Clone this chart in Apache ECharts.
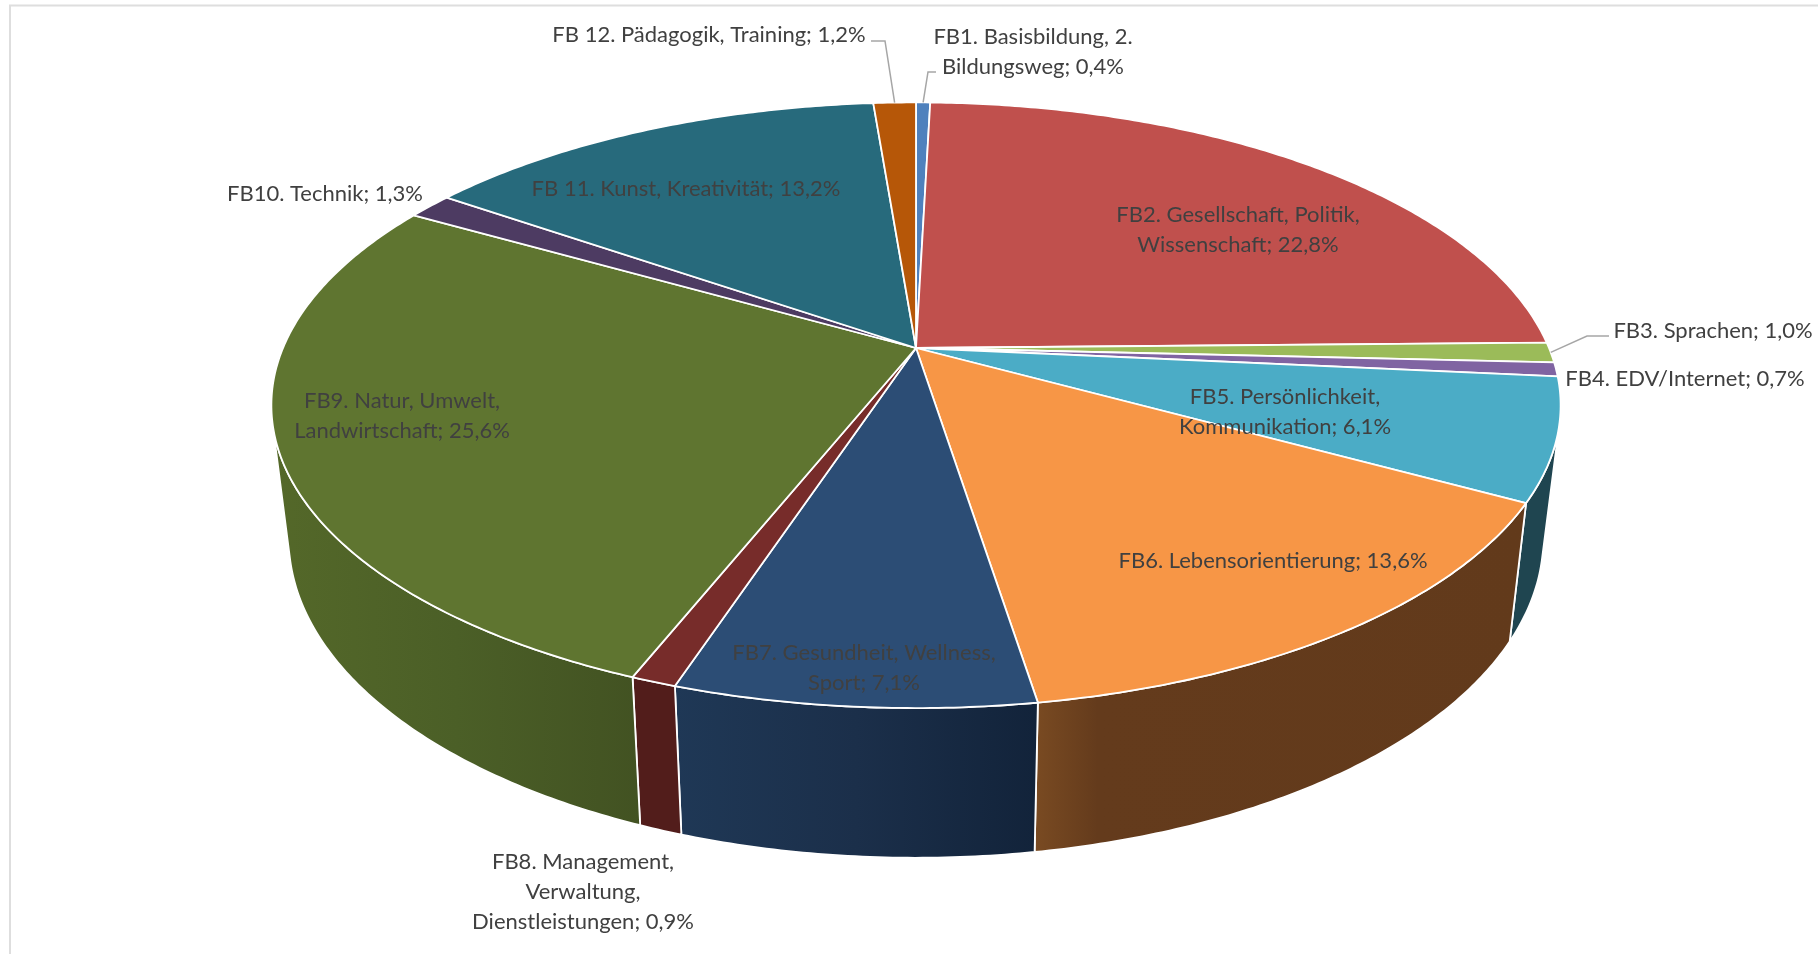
<!DOCTYPE html>
<html>
<head>
<meta charset="utf-8">
<style>html,body{margin:0;padding:0;background:#fff}#chart{width:1818px;height:954px}</style>
<script src="https://cdn.jsdelivr.net/npm/echarts@6/dist/echarts.min.js"></script>
</head>
<body>
<div id="chart"></div>
<script>
// --- data ---
const categories = [
  'FB1. Basisbildung, 2.\nBildungsweg',
  'FB2. Gesellschaft, Politik,\nWissenschaft',
  'FB3. Sprachen',
  'FB4. EDV/Internet',
  'FB5. Persönlichkeit,\nKommunikation',
  'FB6. Lebensorientierung',
  'FB7. Gesundheit, Wellness,\nSport',
  'FB8. Management,\nVerwaltung,\nDienstleistungen',
  'FB9. Natur, Umwelt,\nLandwirtschaft',
  'FB10. Technik',
  'FB 11. Kunst, Kreativität',
  'FB 12. Pädagogik, Training'
];
const shares = [0.4, 22.8, 1.0, 0.7, 6.1, 13.6, 7.1, 0.9, 25.6, 1.3, 13.2, 1.2];

// --- styles and layout (separate from the data) ---
const topColors = ['#4f81bd','#c0504d','#9bbb59','#8064a2','#4bacc6','#f79646','#2c4d75','#772c2a','#5f7530','#4d3b62','#276a7c','#b65708'];
const wallStops = [
  ['#2f4d72','#2f4d72'], ['#73302e','#73302e'], ['#5d7035','#5d7035'], ['#4c3c61','#4c3c61'],
  ['#1f4550','#1f4550'],
  ['#7a4b22','#643b1c','#623a1b'],
  ['#1f3856','#1b2f4a','#12233a'],
  ['#521d1b','#521d1b'],
  ['#546829','#4b5f27','#425222'],
  ['#2e233b','#2e233b'], ['#173f4a','#173f4a'], ['#6d3405','#6d3405']
];
const wallMidOffsets = [0.5, 0.5, 0.5, 0.5, 0.5, 0.13, 0.5, 0.5, 0.5, 0.5, 0.5, 0.5];
const labelAnchors = [
  [1033,52],[1238,230],[1713,331],[1685,379],[1285,412],[1273,561],
  [864,668],[583,892],[402,416],[325,194],[686,189],[709,35]
];
const leaders = { 0: [[928,72],[936,72]], 2: [[1587,336],[1609,336]], 11: [[885,41],[871,41]] };
const topDisc = { cx: 916, cy: 348, a: 633, b: 292 };
const baseDisc = { cx: 916, cy: 478, a: 616, b: 308 };
const persp = 0.189;
const total = shares.reduce((s, v) => s + v, 0);
const FONT = '22px Lato, Carlito, sans-serif';

function project(d, t) {
  const X = Math.sin(t), Y = Math.cos(t), w = 1 + persp * Y;
  return [d.cx + d.a * X / w, d.cy - d.b * Y / w];
}
function sliceRange(i) {
  let s = 0;
  for (let j = 0; j < i; j++) s += shares[j];
  return [s / total * 2 * Math.PI, (s + shares[i]) / total * 2 * Math.PI];
}
function arc(d, t0, t1) {
  const n = Math.max(2, Math.ceil((t1 - t0) / 0.01));
  const pts = [];
  for (let k = 0; k <= n; k++) pts.push(project(d, t0 + (t1 - t0) * k / n));
  return pts;
}
// The wall is only seen where it faces the viewer: walk out from the front of the disc
// until the rim's tangent lines up with the wall's edge.
function facing(t) {
  const e = 1e-3, p = project(topDisc, t), q = project(topDisc, t + e), b = project(baseDisc, t);
  return (q[0] - p[0]) * (b[1] - p[1]) - (q[1] - p[1]) * (b[0] - p[0]);
}
function frontLimit(dir) {
  const sign = Math.sign(facing(Math.PI));
  let t = Math.PI;
  while (Math.sign(facing(t + dir * 0.002)) === sign && Math.abs(t - Math.PI) < Math.PI) t += dir * 0.002;
  return t;
}
const WALL_MIN = frontLimit(-1), WALL_MAX = frontLimit(1);

function renderWall(params, api) {
  const i = params.dataIndex;
  let [t0, t1] = sliceRange(i);
  t0 = Math.max(t0, WALL_MIN); t1 = Math.min(t1, WALL_MAX);
  if (t1 <= t0) return null;
  const pts = arc(topDisc, t0, t1).concat(arc(baseDisc, t0, t1).reverse());
  const st = wallStops[i];
  const fill = new echarts.graphic.LinearGradient(0, 0, 1, 0,
    st.map((c, k) => ({ offset: k === 1 && st.length === 3 ? wallMidOffsets[i] : k / (st.length - 1), color: c })));
  return { type: 'polygon', shape: { points: pts }, style: { fill, stroke: '#ffffff', lineWidth: 1.8, lineJoin: 'round' } };
}
function renderTop(params, api) {
  const i = params.dataIndex;
  const [t0, t1] = sliceRange(i);
  const pts = [[topDisc.cx, topDisc.cy]].concat(arc(topDisc, t0, t1));
  return { type: 'polygon', shape: { points: pts }, style: { fill: topColors[i], stroke: '#ffffff', lineWidth: 1.8, lineJoin: 'round' } };
}
function renderLabel(params, api) {
  const i = params.dataIndex;
  const pct = api.value(0).toFixed(1).replace('.', ',');
  const children = [];
  if (leaders[i]) {
    const [t0, t1] = sliceRange(i);
    const rim = project(topDisc, (t0 + t1) / 2);
    children.push({ type: 'polyline', shape: { points: [rim].concat(leaders[i]) },
      style: { fill: null, stroke: '#a6a6a6', lineWidth: 1.5 } });
  }
  children.push({ type: 'text', style: {
    x: labelAnchors[i][0], y: labelAnchors[i][1],
    text: categories[i] + '; ' + pct + '%',
    font: FONT, fill: '#404040', align: 'center', verticalAlign: 'middle', lineHeight: 30
  } });
  return { type: 'group', children };
}

const seriesData = shares.map((v, i) => ({ name: categories[i], value: [v] }));
const chart = echarts.init(document.getElementById('chart'), null, { renderer: 'canvas' });
chart.setOption({
  animation: false,
  backgroundColor: '#ffffff',
  graphic: [{ type: 'polyline', silent: true, shape: { points: [[1818,5.5],[10,5.5],[10,954]] },
    style: { fill: null, stroke: '#dedede', lineWidth: 2 } }],
  series: [
    { type: 'custom', coordinateSystem: 'none', z: 2, renderItem: renderWall, data: seriesData, silent: true },
    { type: 'custom', coordinateSystem: 'none', z: 3, renderItem: renderTop, data: seriesData, silent: true },
    { type: 'custom', coordinateSystem: 'none', z: 4, renderItem: renderLabel, data: seriesData, silent: true }
  ]
});
</script>
</body>
</html>
